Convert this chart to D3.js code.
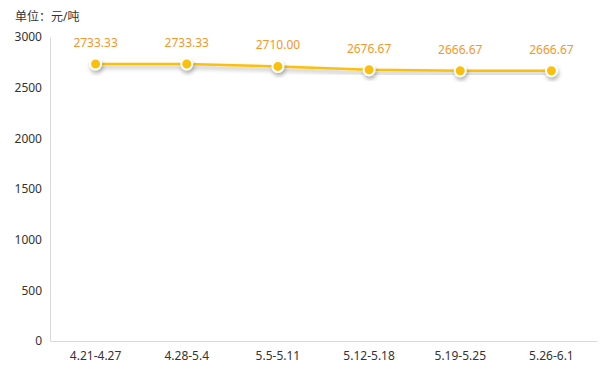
<!DOCTYPE html>
<html>
<head>
<meta charset="utf-8">
<script src="https://cdn.jsdelivr.net/npm/d3@7"></script>
<style>
  body { margin: 0; background: #fff; }
  text { font-family: "Noto Sans", "Noto Sans CJK SC", sans-serif; }
</style>
</head>
<body>
<div id="chart"></div>
<script>
var categories = ["4.21-4.27", "4.28-5.4", "5.5-5.11", "5.12-5.18", "5.19-5.25", "5.26-6.1"];
var prices = [2733.33, 2733.33, 2710.00, 2676.67, 2666.67, 2666.67];
var yTicks = [0, 500, 1000, 1500, 2000, 2500, 3000];

var w = 608, h = 376;
var padLeft = 50, padRight = 597, padTop = 37, padBottom = 341;

var svg = d3.select("#chart").append("svg")
    .attr("width", w)
    .attr("height", h);

var defs = svg.append("defs");
var f = defs.append("filter").attr("id", "shadow")
    .attr("x", "-50%").attr("y", "-50%").attr("width", "200%").attr("height", "200%");
f.append("feDropShadow")
    .attr("dx", 1).attr("dy", 3).attr("stdDeviation", 2)
    .attr("flood-color", "#000").attr("flood-opacity", 0.3);

var xScale = d3.scaleBand()
    .domain(categories)
    .range([padLeft, padRight]);

var yScale = d3.scaleLinear()
    .domain([0, 3000])
    .range([padBottom, padTop]);

// unit label
svg.append("text")
    .attr("x", 15)
    .attr("y", 21)
    .attr("font-size", 12)
    .attr("fill", "#333")
    .text("单位：元/吨");

// y axis
var yAxis = d3.axisLeft(yScale).tickValues(yTicks).tickSize(0).tickPadding(8)
    .tickFormat(d3.format("d"));
var gy = svg.append("g")
    .attr("transform", "translate(" + padLeft + ",0)")
    .call(yAxis);
gy.select(".domain").attr("stroke", "#d9d9d9");
gy.selectAll("text").attr("font-size", 12).attr("fill", "#333");

// x axis
var xAxis = d3.axisBottom(xScale).tickSize(0).tickPadding(10);
var gx = svg.append("g")
    .attr("transform", "translate(0," + padBottom + ")")
    .call(xAxis);
gx.select(".domain").attr("stroke", "#d9d9d9");
gx.selectAll("text").attr("font-size", 12).attr("fill", "#333");

var cx = function(d, i) { return xScale(categories[i]) + xScale.bandwidth() / 2; };

var line = d3.line()
    .x(function(d, i) { return cx(d, i); })
    .y(function(d) { return yScale(d); });

svg.append("path")
    .datum(prices)
    .attr("d", line)
    .attr("fill", "none")
    .attr("stroke", "#fbbf0a")
    .attr("stroke-width", 2.5)
    .attr("filter", "url(#shadow)");

svg.selectAll("circle.pt")
    .data(prices)
    .enter()
    .append("circle")
    .attr("class", "pt")
    .attr("cx", cx)
    .attr("cy", function(d) { return yScale(d); })
    .attr("r", 5.5)
    .attr("fill", "#fbbf0a")
    .attr("stroke", "#fff")
    .attr("stroke-width", 2)
    .attr("filter", "url(#shadow)");

svg.selectAll("text.val")
    .data(prices)
    .enter()
    .append("text")
    .attr("class", "val")
    .attr("x", cx)
    .attr("y", function(d) { return yScale(d) - 17; })
    .attr("text-anchor", "middle")
    .attr("font-size", 12)
    .attr("fill", "#f5962a")
    .text(function(d) { return d.toFixed(2); });
</script>
</body>
</html>
